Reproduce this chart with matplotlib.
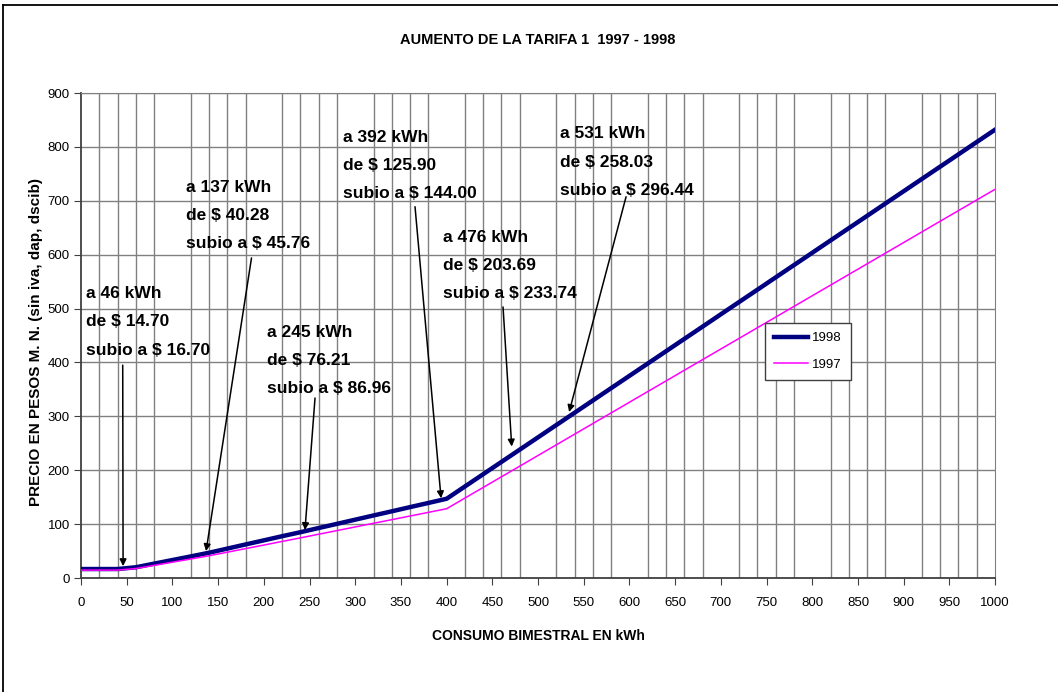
import matplotlib
matplotlib.use('Agg')
import matplotlib.pyplot as plt
from matplotlib.lines import Line2D

plt.rcParams['font.family'] = ['Liberation Sans', 'DejaVu Sans']

# Consumption (kWh) and prices
kwh = [0, 20, 40, 60, 80, 100, 120, 140, 160, 180, 200, 220, 240, 260, 280, 300,
       320, 340, 360, 380, 400, 420, 440, 460, 480, 500, 520, 540, 560, 580, 600,
       620, 640, 660, 680, 700, 720, 740, 760, 780, 800, 820, 840, 860, 880, 900,
       920, 940, 960, 980, 1000]
precio_1998 = [16.7, 16.7, 16.7, 20.0, 26.7, 33.4, 40.1, 46.9, 54.6, 62.3, 69.9,
               77.6, 85.0, 92.8, 100.5, 108.3, 116.1, 123.8, 131.6, 139.3, 147.1,
               169.9, 192.7, 215.5, 238.3, 261.1, 283.9, 306.7, 329.5, 352.4, 375.2,
               398.0, 420.8, 443.7, 466.5, 489.4, 512.2, 535.0, 557.9, 580.7, 603.5,
               626.4, 649.2, 672.0, 694.9, 717.7, 740.6, 763.4, 786.2, 809.1, 831.9]
precio_1997 = [14.7, 14.7, 14.7, 17.6, 23.5, 29.4, 35.3, 41.3, 47.9, 54.6, 61.2,
               67.9, 74.5, 81.3, 88.0, 94.8, 101.6, 108.3, 115.1, 121.8, 128.6,
               148.4, 168.1, 187.9, 207.6, 227.4, 247.2, 266.9, 286.7, 306.4, 326.2,
               346.0, 365.7, 385.5, 405.2, 425.0, 444.7, 464.5, 484.2, 504.0, 523.8,
               543.5, 563.3, 583.0, 602.8, 622.5, 642.3, 662.1, 681.8, 701.6, 721.3]

# Callouts: lines of text, first-line baseline position (data), arrow start, arrow tip
notas = [
    (["a 46 kWh", "de $ 14.70", "subio a $ 16.70"], (5.5, 519.6), (45.6, 395), (46, 22)),
    (["a 137 kWh", "de $ 40.28", "subio a $ 45.76"], (114.9, 716.8), (186.5, 594), (136.8, 50)),
    (["a 245 kWh", "de $ 76.21", "subio a $ 86.96"], (203.8, 447.8), (256, 334), (245, 89)),
    (["a 392 kWh", "de $ 125.90", "subio a $ 144.00"], (287, 809.6), (365.4, 689), (393.9, 148)),
    (["a 476 kWh", "de $ 203.69", "subio a $ 233.74"], (395.7, 624), (461.7, 503), (471.2, 244)),
    (["a 531 kWh", "de $ 258.03", "subio a $ 296.44"], (524, 815.9), (596.3, 707.5), (534, 308)),
]
paso_linea = 52.6  # vertical distance between callout lines, data units

fig = plt.figure(figsize=(10.58, 6.92), dpi=100)
ax = fig.add_axes([0.0766, 0.1647, 0.8639, 0.7009])

ax.plot(kwh, precio_1998, color='#000080', lw=3.2, label='1998', zorder=3)
ax.plot(kwh, precio_1997, color='#ff00ff', lw=1.1, label='1997', zorder=3)

ax.set_xlim(0, 1000)
ax.set_ylim(0, 900)
ax.set_xticks(range(0, 1001, 50))
ax.set_xticks(range(0, 1001, 20), minor=True)
ax.set_yticks(range(0, 901, 100))
ax.grid(True, which='minor', axis='x', color='#808080', lw=1)
ax.grid(True, which='major', axis='y', color='#808080', lw=1)
ax.tick_params(axis='x', which='minor', length=0)
ax.tick_params(axis='both', which='major', direction='out', length=5,
               color='#404040', labelsize=9.5, pad=9)
ax.tick_params(axis='y', pad=3)
ax.set_axisbelow(True)
for s in ['top', 'right']:
    ax.spines[s].set_color('#808080')
for s in ['left', 'bottom']:
    ax.spines[s].set_color('#404040')
    ax.spines[s].set_linewidth(1.3)

for lineas, pos, start, tip in notas:
    for i, linea in enumerate(lineas):
        ax.text(pos[0], pos[1] - i * paso_linea, linea, fontsize=12.5,
                fontweight='bold', va='baseline', ha='left', zorder=5)
    ax.annotate('', xy=tip, xytext=start,
                arrowprops=dict(arrowstyle='-|>', color='black', lw=1.1,
                                mutation_scale=10, shrinkA=0, shrinkB=0), zorder=5)

leg = ax.legend(loc='upper left', bbox_to_anchor=(0.741, 0.54), fontsize=9.5,
                frameon=True, fancybox=False, edgecolor='#404040', framealpha=1,
                handlelength=2.6, borderpad=0.7, labelspacing=1.1,
                handletextpad=0.3)
leg.get_frame().set_linewidth(1)

ax.set_xlabel('CONSUMO BIMESTRAL EN kWh', fontsize=10, fontweight='bold', labelpad=14)
ax.set_ylabel('PRECIO EN PESOS M. N. (sin iva, dap, dscib)', fontsize=11,
              fontweight='bold')
ax.yaxis.set_label_coords(-0.0416, 0.487)
fig.text(0.508, 0.942, 'AUMENTO DE LA TARIFA 1  1997 - 1998', ha='center',
         va='center', fontsize=10.5, fontweight='bold')

# Outer chart frame (only left and top edges visible)
fig.add_artist(Line2D([0.003, 0.003], [0.0, 0.993], color='black', lw=1.3,
                      transform=fig.transFigure))
fig.add_artist(Line2D([0.003, 1.0], [0.993, 0.993], color='black', lw=1.3,
                      transform=fig.transFigure))

fig.savefig('out.png', dpi=100)
